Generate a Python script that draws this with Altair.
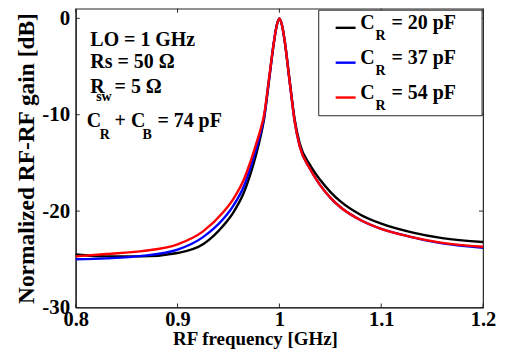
import altair as alt
import pandas as pd

# ---------------- data ----------------
freq = [0.80, 0.83, 0.865, 0.90, 0.925, 0.945, 0.955, 0.965, 0.972, 0.977, 0.981,
        0.985, 0.99, 0.995, 0.9975, 1.0, 1.0025, 1.005, 1.01, 1.015, 1.02, 1.03,
        1.04, 1.05, 1.06, 1.08, 1.10, 1.13, 1.16, 1.20]
gain_20 = [-24.5, -24.7, -24.7, -24.35, -23.45, -21.5, -20.1, -18.1, -16.0, -14.2, -12.5,
           -10.4, -6.3, -2.2, -0.7, 0.0, -0.7, -2.2, -6.4, -10.5, -13.0, -15.2,
           -16.75, -18.0, -19.0, -20.4, -21.3, -22.2, -22.8, -23.2]
gain_37 = [-25.0, -24.9, -24.65, -24.0, -22.7, -20.8, -19.4, -17.45, -15.35, -13.65, -12.1,
           -10.2, -6.2, -2.2, -0.7, 0.0, -0.7, -2.2, -6.5, -10.7, -13.3, -15.6,
           -17.3, -18.6, -19.6, -20.95, -21.85, -22.7, -23.35, -23.8]
gain_54 = [-24.7, -24.45, -24.15, -23.45, -22.1, -20.1, -18.7, -16.75, -14.75, -13.1, -11.7,
           -10.0, -6.1, -2.2, -0.7, 0.0, -0.7, -2.2, -6.5, -10.7, -13.3, -15.6,
           -17.3, -18.6, -19.6, -20.95, -21.85, -22.7, -23.3, -23.7]
series_cap = ["20", "37", "54"]
series_colors = ["#000000", "#0000ff", "#ff0000"]
x_ticks = [0.8, 0.9, 1.0, 1.1, 1.2]
y_ticks = [-30, -20, -10, 0]

rows = []
for cap, vals in zip(series_cap, [gain_20, gain_37, gain_54]):
    for f, g in zip(freq, vals):
        rows.append({"f": f, "g": g, "s": cap})
df = pd.DataFrame(rows)

W, H = 409, 300
FONT = "Liberation Serif"
AX = "#262626"

xs = alt.Scale(domain=[0.8, 1.2], nice=False, zero=False)
ys = alt.Scale(domain=[-30, 1], nice=False, zero=False)

lines = alt.Chart(df).mark_line(strokeWidth=2.4, interpolate="monotone").encode(
    x=alt.X("f:Q", scale=xs,
            axis=alt.Axis(values=x_ticks, labelExpr="datum.value + ''",
                          title="RF frequency [GHz]", titleX=180, titleY=37.5,
                          titleBaseline="alphabetic", titleFontSize=19,
                          labelPadding=2.5, labelFontSize=20.5,
                          labelFlush=False, labelOverlap=False)),
    y=alt.Y("g:Q", scale=ys,
            axis=alt.Axis(values=y_ticks, labelExpr="datum.value + ''",
                          title="Normalized RF-RF gain [dB]", titleX=-42, titleY=150,
                          titleBaseline="alphabetic", titleFontSize=23.5,
                          labelPadding=6, labelFlush=False, labelOverlap=False)),
    color=alt.Color("s:N", scale=alt.Scale(domain=series_cap, range=series_colors), legend=None),
    order=alt.Order("f:Q"),
)

tdf = pd.DataFrame({"xt": x_ticks})
ydf = pd.DataFrame({"yt": y_ticks})
xtick_b = alt.Chart(tdf).mark_rule(color=AX, strokeWidth=1).encode(
    x=alt.X("xt:Q", scale=xs), y=alt.value(H), y2=alt.value(H - 4))
xtick_t = alt.Chart(tdf).mark_rule(color=AX, strokeWidth=1).encode(
    x=alt.X("xt:Q", scale=xs), y=alt.value(0), y2=alt.value(4))
ytick_l = alt.Chart(ydf).mark_rule(color=AX, strokeWidth=1).encode(
    y=alt.Y("yt:Q", scale=ys), x=alt.value(0), x2=alt.value(4))
ytick_r = alt.Chart(ydf).mark_rule(color=AX, strokeWidth=1).encode(
    y=alt.Y("yt:Q", scale=ys), x=alt.value(W), x2=alt.value(W - 4))

one = alt.Data(values=[{}])


def txt(s, x, y, size=20):
    return alt.Chart(one).mark_text(font=FONT, fontWeight="bold", fontSize=size,
                                    align="left", baseline="alphabetic",
                                    color="#000000").encode(
        x=alt.value(x), y=alt.value(y), text=alt.value(s))


annot = [
    txt("LO = 1 GHz", 14.7, 37.5),
    txt("Rs = 50 Ω", 14.7, 59.2),
    txt("R", 14.7, 84.2),
    txt("sw", 20.5, 92.5, 14),
    txt("= 5 Ω", 39, 84.2),
    txt("C", 11, 119.2),
    txt("R", 24, 130.5, 14),
    txt("+ C", 39, 119.2),
    txt("B", 67, 130.5, 14),
    txt("= 74 pF", 82, 119.2),
]

legend_box = alt.Chart(one).mark_rect(fill="white", stroke=AX, strokeWidth=1).encode(
    x=alt.value(244), x2=alt.value(408), y=alt.value(1.5), y2=alt.value(107.5))

legend_items = []
for i, (cap, col) in enumerate(zip(series_cap, series_colors)):
    dy = 35 * i
    legend_items.append(alt.Chart(one).mark_rule(color=col, strokeWidth=2.4).encode(
        x=alt.value(261), x2=alt.value(281), y=alt.value(19.2 + dy)))
    legend_items.append(txt("C", 285.7, 20.8 + dy))
    legend_items.append(txt("R", 301, 31.5 + dy, 14))
    legend_items.append(txt("= " + cap + " pF", 317, 20.8 + dy))

chart = alt.layer(
    lines, xtick_b, xtick_t, ytick_l, ytick_r, *annot, legend_box, *legend_items
).properties(
    width=W, height=H,
    autosize=alt.AutoSizeParams(type="none"),
    padding={"left": 68, "top": 0, "right": 14, "bottom": 42},
).configure_view(
    stroke=AX, strokeWidth=1.2
).configure_axis(
    grid=False, ticks=False, tickSize=0, domainColor=AX, domainWidth=1.2,
    labelFont=FONT, labelFontWeight="bold", labelFontSize=21, labelColor="#000000",
    titleFont=FONT, titleFontWeight="bold", titleColor="#000000",
)

chart.save("out.html", embed_options={"renderer": "svg", "actions": False})
